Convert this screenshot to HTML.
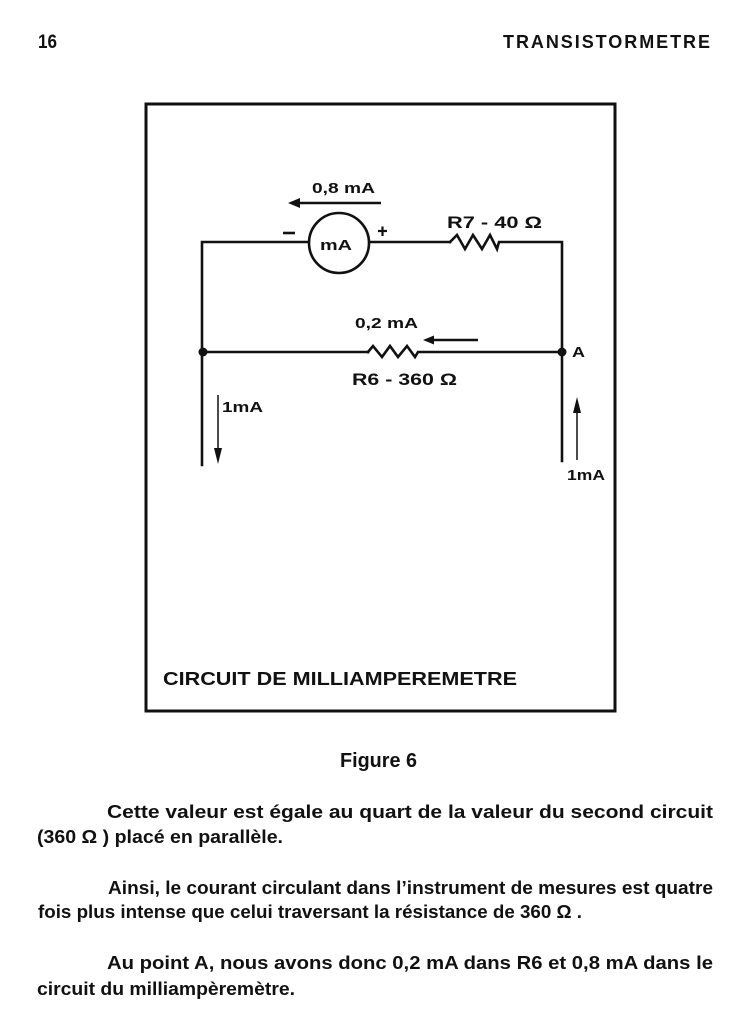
<!DOCTYPE html>
<html>
<head>
<meta charset="utf-8">
<style>
  html, body { margin: 0; padding: 0; background: #ffffff; }
  body { width: 746px; height: 1024px; overflow: hidden; }
  svg { display: block; }
  text { font-family: "Liberation Sans", "DejaVu Sans", sans-serif; fill: #111; }
  .b { font-weight: bold; }
</style>
</head>
<body>
<svg width="746" height="1024" viewBox="0 0 746 1024" xmlns="http://www.w3.org/2000/svg">
  <rect x="0" y="0" width="746" height="1024" fill="#ffffff"/>

  <!-- Header -->
  <text class="b" x="38" y="48" font-size="19" textLength="19" lengthAdjust="spacingAndGlyphs">16</text>
  <text class="b" x="503" y="48" font-size="18" textLength="207" lengthAdjust="spacing">TRANSISTORMETRE</text>

  <!-- Frame -->
  <rect x="146" y="104" width="469" height="607" fill="none" stroke="#111" stroke-width="3"/>

  <!-- Circuit wires -->
  <g stroke="#111" stroke-width="2.6" fill="none" stroke-linejoin="miter" stroke-linecap="square">
    <!-- top branch -->
    <polyline points="202,465 202,242 309,242"/>
    <line x1="369" y1="242" x2="450" y2="242"/>
    <polyline points="450,242 457,235 465,249 473,235 482,249 490,235 497,249 499,242 562,242 562,461"/>
    <!-- middle branch -->
    <line x1="202" y1="352" x2="368" y2="352"/>
    <polyline points="368,352 373,346 382,357 390,346 398,357 407,346 415,357 418,352 562,352"/>
  </g>

  <!-- meter -->
  <circle cx="339" cy="243" r="30" fill="#fff" stroke="#111" stroke-width="2.6"/>
  <text class="b" x="320" y="250" font-size="15" textLength="32" lengthAdjust="spacingAndGlyphs">mA</text>

  <!-- polarity signs -->
  <line x1="283" y1="233" x2="295" y2="233" stroke="#111" stroke-width="2.6"/>
  <line x1="378" y1="231" x2="387" y2="231" stroke="#111" stroke-width="2.2"/>
  <line x1="382.5" y1="226.5" x2="382.5" y2="236" stroke="#111" stroke-width="2.2"/>

  <!-- junction dots -->
  <circle cx="203" cy="352" r="4.5" fill="#111"/>
  <circle cx="562" cy="352" r="4.5" fill="#111"/>

  <!-- current arrows -->
  <line x1="297" y1="203" x2="381" y2="203" stroke="#111" stroke-width="2.4"/>
  <polygon points="288,203 300,198 300,208" fill="#111"/>

  <line x1="431" y1="340" x2="478" y2="340" stroke="#111" stroke-width="2.4"/>
  <polygon points="423,340 434,335.5 434,344.5" fill="#111"/>

  <line x1="218" y1="395" x2="218" y2="452" stroke="#111" stroke-width="1.5"/>
  <polygon points="218,464 214,448 222,448" fill="#111"/>

  <line x1="577" y1="411" x2="577" y2="460" stroke="#111" stroke-width="1.5"/>
  <polygon points="577,397 573,413 581,413" fill="#111"/>

  <!-- labels -->
  <text class="b" x="312" y="193" font-size="15" textLength="63" lengthAdjust="spacingAndGlyphs">0,8 mA</text>
  <text class="b" x="447" y="228" font-size="17" textLength="95" lengthAdjust="spacingAndGlyphs">R7 - 40 Ω</text>
  <text class="b" x="355" y="328" font-size="15" textLength="63" lengthAdjust="spacingAndGlyphs">0,2 mA</text>
  <text class="b" x="572" y="357" font-size="15" textLength="13" lengthAdjust="spacingAndGlyphs">A</text>
  <text class="b" x="352" y="385" font-size="17" textLength="105" lengthAdjust="spacingAndGlyphs">R6 - 360 Ω</text>
  <text class="b" x="222" y="412" font-size="15" textLength="41" lengthAdjust="spacingAndGlyphs">1mA</text>
  <text class="b" x="567" y="480" font-size="15" textLength="38" lengthAdjust="spacingAndGlyphs">1mA</text>

  <text class="b" x="163" y="685" font-size="18" textLength="354" lengthAdjust="spacingAndGlyphs">CIRCUIT DE MILLIAMPEREMETRE</text>

  <!-- caption -->
  <text class="b" x="340" y="767" font-size="20" textLength="77" lengthAdjust="spacingAndGlyphs">Figure 6</text>

  <!-- body text -->
  <g class="b" font-size="18">
    <text class="b" x="107" y="818" textLength="606" lengthAdjust="spacingAndGlyphs">Cette valeur est égale au quart de la valeur du second circuit</text>
    <text class="b" x="37" y="843" textLength="246" lengthAdjust="spacingAndGlyphs">(360 Ω ) placé en parallèle.</text>
    <text class="b" x="108" y="894" textLength="605" lengthAdjust="spacingAndGlyphs">Ainsi, le courant circulant dans l’instrument de mesures est quatre</text>
    <text class="b" x="38" y="918" textLength="544" lengthAdjust="spacingAndGlyphs">fois plus intense que celui traversant la résistance de 360 Ω .</text>
    <text class="b" x="107" y="969" textLength="606" lengthAdjust="spacingAndGlyphs">Au point A, nous avons donc 0,2 mA dans R6 et 0,8 mA dans le</text>
    <text class="b" x="37" y="995" textLength="258" lengthAdjust="spacingAndGlyphs">circuit du milliampèremètre.</text>
  </g>
</svg>
</body>
</html>
